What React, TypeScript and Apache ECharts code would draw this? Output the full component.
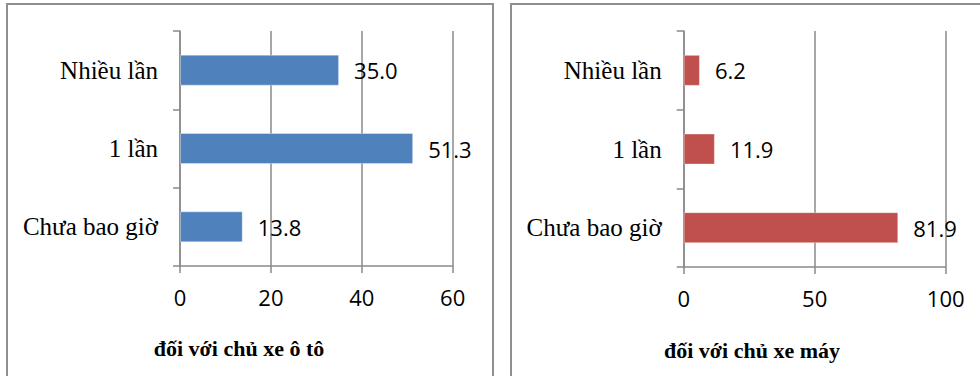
import React, { useEffect, useRef } from "react";
import * as echarts from "echarts";

// Categories (bottom to top as ECharts draws them)
const categories = ["Chưa bao giờ", "1 lần", "Nhiều lần"];
// Values for car owners (left) and motorbike owners (right)
const carValues = [13.8, 51.3, 35.0];
const motoValues = [81.9, 11.9, 6.2];
const carTitle = "đối với chủ xe ô tô";
const motoTitle = "đối với chủ xe máy";
const carAxisMax = 60;
const carAxisInterval = 20;
const motoAxisMax = 100;
const motoAxisInterval = 50;

const GRAY = "#8a8a8a";
const SERIF = "'Liberation Serif', 'Times New Roman', serif";
const SANS = "'Open Sans', 'Noto Sans', sans-serif";

function catAxis(gridIndex: number) {
  return {
    type: "category" as const,
    gridIndex,
    data: categories,
    axisLine: { show: true, lineStyle: { color: GRAY, width: 1.5 } },
    axisTick: { show: true, length: 7, lineStyle: { color: GRAY, width: 1.5 } },
    axisLabel: { margin: 22, fontFamily: SERIF, fontSize: 25, color: "#000" },
    splitLine: { show: false },
  };
}

function valAxis(gridIndex: number, max: number, interval: number) {
  return {
    type: "value" as const,
    gridIndex,
    min: 0,
    max,
    interval,
    axisLine: { show: true, lineStyle: { color: GRAY, width: 1.5 } },
    axisTick: { show: true, length: 7, lineStyle: { color: GRAY, width: 1.5 } },
    axisLabel: { margin: 20, fontFamily: SANS, fontSize: 22, color: "#000" },
    splitLine: { show: true, lineStyle: { color: GRAY, width: 1.5 } },
  };
}

function barSeries(idx: number, data: number[], color: string) {
  return {
    type: "bar" as const,
    xAxisIndex: idx,
    yAxisIndex: idx,
    data,
    barWidth: 31,
    itemStyle: { color, borderColor: "rgba(255,255,255,0.35)", borderWidth: 1 },
    label: {
      show: true,
      position: "right" as const,
      distance: 15,
      fontFamily: SANS,
      fontSize: 22,
      color: "#000",
      formatter: (p: any) => Number(p.value).toFixed(1),
    },
  };
}

export default function App() {
  const ref = useRef<HTMLDivElement>(null);
  useEffect(() => {
    if (!ref.current) return;
    const chart = echarts.init(ref.current, undefined, { renderer: "svg" });
    chart.setOption({
      animation: false,
      backgroundColor: "#fff",
      grid: [
        { left: 180, top: 31, width: 272.7, height: 235 },
        { left: 683.7, top: 31, width: 262, height: 236 },
      ],
      xAxis: [valAxis(0, carAxisMax, carAxisInterval), valAxis(1, motoAxisMax, motoAxisInterval)],
      yAxis: [catAxis(0), catAxis(1)],
      series: [barSeries(0, carValues, "#4F81BD"), barSeries(1, motoValues, "#C0504D")],
      graphic: [
        {
          type: "rect",
          shape: { x: 7, y: 4, width: 486, height: 420 },
          style: { fill: "none", stroke: "#8f8f8f", lineWidth: 2 },
          z: 0,
        },
        {
          type: "rect",
          shape: { x: 511, y: 4, width: 520, height: 420 },
          style: { fill: "none", stroke: "#8f8f8f", lineWidth: 2 },
          z: 0,
        },
        {
          type: "text",
          x: 239,
          y: 348,
          style: {
            text: carTitle,
            fontFamily: SERIF,
            fontSize: 22,
            fontWeight: "bold",
            fill: "#000",
            align: "center",
            verticalAlign: "middle",
          },
        },
        {
          type: "text",
          x: 752,
          y: 350,
          style: {
            text: motoTitle,
            fontFamily: SERIF,
            fontSize: 22,
            fontWeight: "bold",
            fill: "#000",
            align: "center",
            verticalAlign: "middle",
          },
        },
      ],
    });
    return () => chart.dispose();
  }, []);
  return (
    <div
      ref={ref}
      style={{ position: "fixed", left: 0, top: 0, width: 980, height: 376, background: "#fff" }}
    />
  );
}
